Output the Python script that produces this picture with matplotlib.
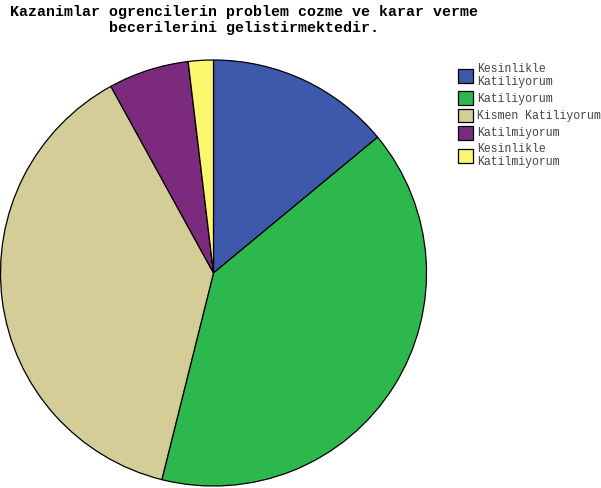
import matplotlib
matplotlib.use("Agg")
import matplotlib.pyplot as plt

# data
labels = ["Kesinlikle\nKatiliyorum", "Katiliyorum", "Kismen Katiliyorum",
          "Katilmiyorum", "Kesinlikle\nKatilmiyorum"]
values = [14.0, 39.9, 38.1, 6.1, 1.9]
colors = ["#3e58ac", "#2db84d", "#d4cd98", "#7b2a7e", "#fbf870"]
title = "Kazanimlar ogrencilerin problem cozme ve karar verme\nbecerilerini gelistirmektedir."

W, H = 601, 488
fig = plt.figure(figsize=(W / 100, H / 100), dpi=100)
fig.patch.set_facecolor("white")

# pie box: center (213, 273) px, radius 213 px
cx, cy, r = 213.5, 273, 213
ax = fig.add_axes([(cx - r) / W, (H - cy - r) / H, 2 * r / W, 2 * r / H])
wedges, _ = ax.pie(values, colors=colors, startangle=90, counterclock=False,
                   radius=1, wedgeprops=dict(edgecolor="black", linewidth=0.9))
ax.set_xlim(-1, 1)
ax.set_ylim(-1, 1)
ax.set_aspect("auto")
ax.axis("off")

fig.text(244 / W, 1 - 5 / H, title, ha="center", va="top",
         family="Liberation Mono", fontweight="bold", fontsize=10.8,
         linespacing=1.15)

leg = fig.legend(wedges, labels, loc="upper left",
                 bbox_to_anchor=(458 / W, 1 - 63 / H), frameon=False,
                 prop=dict(family="Liberation Mono", size=8.3),
                 handlelength=1.3, handleheight=1.45, handletextpad=0.35,
                 labelspacing=0.31, borderpad=0, borderaxespad=0)
for t in leg.get_texts():
    t.set_linespacing(1.08)
    t.set_color("#444444")

fig.savefig("out.png", dpi=100)
